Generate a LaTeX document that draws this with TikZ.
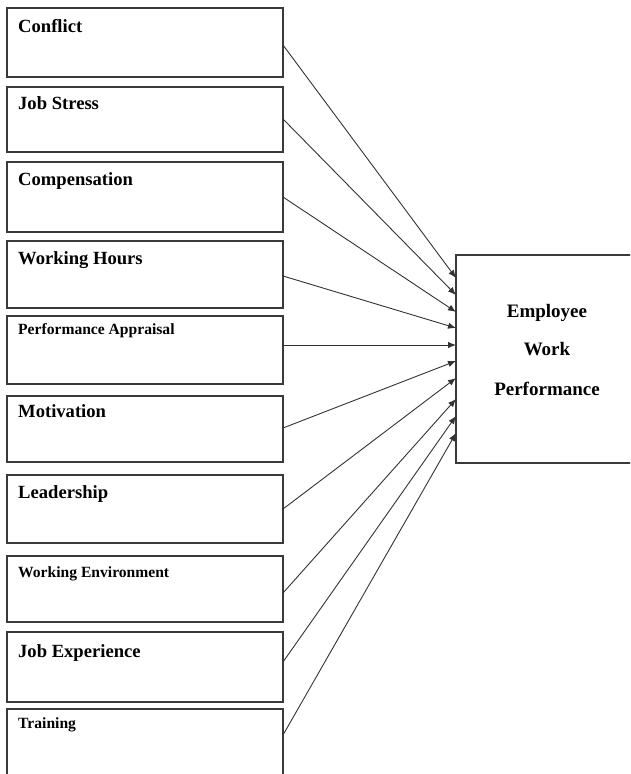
\documentclass[tikz,border=0pt]{standalone}
\usepackage{fontspec}
\setmainfont{Liberation Serif}
\usetikzlibrary{arrows.meta}
\definecolor{boxgray}{HTML}{3A3A3A}
\definecolor{linegray}{HTML}{333333}
\begin{document}
\begin{tikzpicture}[x=1pt,y=-1pt,
  box/.style={draw=boxgray, line width=1.3pt, rectangle, minimum width=276pt, inner sep=0pt, outer sep=0pt, anchor=north west},
  lbl/.style={anchor=base west, inner sep=0pt, font=\bfseries\fontsize{18.6}{20}\selectfont, text=black},
  slbl/.style={anchor=base west, inner sep=0pt, font=\bfseries\fontsize{15.6}{18}\selectfont, text=black},
  rlbl/.style={anchor=base, inner sep=0pt, font=\bfseries\fontsize{19}{21}\selectfont, text=black},
  conn/.style={draw=linegray, line width=0.9pt, -{Latex[length=8pt,width=6.5pt]}}]
\useasboundingbox (0,0) rectangle (630,774);
\clip (0,0) rectangle (630,774);
% left boxes
\node[box, minimum height=69pt] (b1) at (7,8) {};
\node[box, minimum height=65pt] (b2) at (7,87) {};
\node[box, minimum height=70pt] (b3) at (7,162) {};
\node[box, minimum height=67pt] (b4) at (7,241) {};
\node[box, minimum height=68pt] (b5) at (7,316) {};
\node[box, minimum height=66pt] (b6) at (7,396) {};
\node[box, minimum height=68pt] (b7) at (7,475) {};
\node[box, minimum height=66pt] (b8) at (7,556) {};
\node[box, minimum height=70pt] (b9) at (7,632) {};
\node[box, minimum height=80pt] (b10) at (7,709) {};
% labels
\node[lbl] (t1) at (18,32) {Conflict};
\node[lbl] (t2) at (18,109) {Job Stress};
\node[lbl] (t3) at (18,185) {Compensation};
\node[lbl] (t4) at (18,264) {Working Hours};
\node[slbl] (t5) at (18,334) {Performance Appraisal};
\node[lbl] (t6) at (18,417) {Motivation};
\node[lbl] (t7) at (18,498) {Leadership};
\node[slbl] (t8) at (18,577) {Working Environment};
\node[lbl] (t9) at (18,657) {Job Experience};
\node[slbl] (t10) at (18,728) {Training};
% right box
\node[box, minimum width=200pt, minimum height=208pt] (e) at (456,255) {};
\node[rlbl] (r1) at (547,317) {Employee};
\node[rlbl] (r2) at (547,355) {Work};
\node[rlbl] (r3) at (547,395) {Performance};
% connectors
\draw[conn] ([yshift=-37pt]b1.north east) -- ([yshift=-23pt]e.north west);
\draw[conn] ([yshift=-32pt]b2.north east) -- ([yshift=-40pt]e.north west);
\draw[conn] ([yshift=-35pt]b3.north east) -- ([yshift=-57pt]e.north west);
\draw[conn] ([yshift=-35pt]b4.north east) -- ([yshift=-73pt]e.north west);
\draw[conn] ([yshift=-29pt]b5.north east) -- ([yshift=-90pt]e.north west);
\draw[conn] ([yshift=-32pt]b6.north east) -- ([yshift=-106pt]e.north west);
\draw[conn] ([yshift=-34pt]b7.north east) -- ([yshift=-123pt]e.north west);
\draw[conn] ([yshift=-37pt]b8.north east) -- ([yshift=-144pt]e.north west);
\draw[conn] ([yshift=-30pt]b9.north east) -- ([yshift=-161pt]e.north west);
\draw[conn] ([yshift=-26pt]b10.north east) -- ([yshift=-178pt]e.north west);
\end{tikzpicture}
\end{document}
